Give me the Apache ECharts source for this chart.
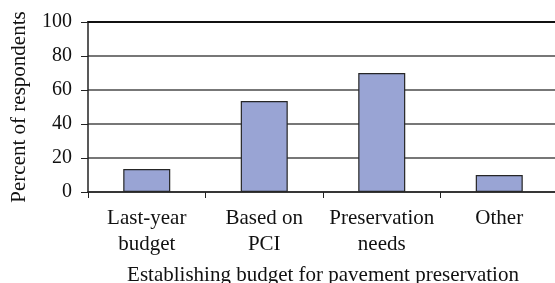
<!DOCTYPE html>
<html>
<head>
<meta charset="utf-8">
<script src="https://cdn.jsdelivr.net/npm/echarts@6/dist/echarts.min.js"></script>
<style>
  html, body { margin: 0; padding: 0; background: #fff; }
  #chart { width: 555px; height: 283px; }
</style>
</head>
<body>
<div id="chart"></div>
<script>
// data
var categories = ['Last-year\nbudget', 'Based on\nPCI', 'Preservation\nneeds', 'Other']
var percents = [13.5, 53.5, 70, 10]
var yTicks = [0, 20, 40, 60, 80, 100]

var font = 'Liberation Serif'

var option = {
  animation: false,
  backgroundColor: '#fff',
  textStyle: { fontFamily: font },
  grid: {
    left: 88,
    top: 22,
    bottom: 91,
    right: -3,
    containLabel: false,
    outerBoundsMode: 'none'
  },
  xAxis: [
    {
      type: 'category',
      data: categories,
      name: 'Establishing budget for pavement preservation',
      nameLocation: 'middle',
      nameGap: 73,
      nameTextStyle: { fontFamily: font, fontSize: 21, color: '#111' },
      axisLine: { lineStyle: { color: '#222', width: 1.5 } },
      axisTick: { show: true, length: 6, lineStyle: { color: '#222' } },
      axisLabel: {
        interval: 0,
        fontFamily: font,
        fontSize: 21,
        color: '#111',
        lineHeight: 26,
        margin: 13
      }
    },
    {
      // plain black line along the top at 100
      type: 'category',
      position: 'top',
      data: categories,
      axisLine: { lineStyle: { color: '#111', width: 2 } },
      axisTick: { show: false },
      axisLabel: { show: false }
    }
  ],
  yAxis: {
    type: 'value',
    min: yTicks[0],
    max: yTicks[yTicks.length - 1],
    interval: 20,
    name: 'Percent of respondents',
    nameLocation: 'middle',
    nameGap: 58,
    nameTextStyle: { fontFamily: font, fontSize: 21, color: '#111' },
    axisLine: { show: true, lineStyle: { color: '#222', width: 1.5 } },
    axisTick: { show: true, length: 7, lineStyle: { color: '#222' } },
    axisLabel: { fontFamily: font, fontSize: 20, color: '#111', margin: 16 },
    splitLine: { lineStyle: { color: '#4a4a4a', width: 1.5 } }
  },
  series: [
    {
      type: 'bar',
      data: percents,
      barWidth: '40%',
      itemStyle: {
        color: '#99a4d4',
        borderColor: '#262626',
        borderWidth: 1.2
      }
    }
  ]
}

var chart = echarts.init(document.getElementById('chart'))
chart.setOption(option)
</script>
</body>
</html>
